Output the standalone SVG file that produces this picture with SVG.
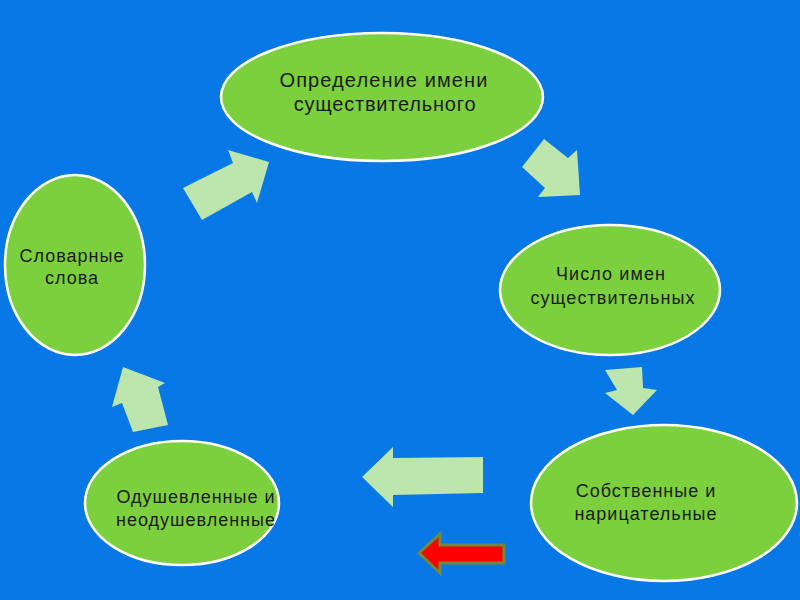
<svg xmlns="http://www.w3.org/2000/svg" width="800" height="600" viewBox="0 0 800 600">
<style>
.node ellipse{fill:#7dd03d;stroke:#ffffff;stroke-width:2.5}
.node text{font-family:"Liberation Sans",Arial,sans-serif;font-size:18px;fill:#1a1a1a;text-anchor:middle;letter-spacing:1px}
#n1 text{font-size:20px}
.arr{fill:#bde5ae}
.red{fill:#ff0000;stroke:#6e8a3c;stroke-width:3;stroke-linejoin:miter}
</style>
<rect width="800" height="600" fill="#0878e6"/>
<g id="connectors">
<polygon class="arr" points="183,188 233,163 228,150 269,162 257,203 252,192 202,220"/>
<polygon class="arr" points="544,139 568,158 577,150 580,195 538,197 545,188 522,167"/>
<polygon class="arr" points="605,370 642,367 643,388 657,390 633,415 605,393 617,390"/>
<polygon class="arr" points="362,477 393,447 393,458 483,457 483,493 393,495 393,507"/>
<polygon class="arr" points="123,367 165,383 158,387 168,425 133,432 122,403 112,407"/>
<polygon class="red" points="419,553 440,534 440,545 504,545 504,563 440,563 440,573"/>
</g>
<g id="n1" class="node">
<ellipse cx="382" cy="97" rx="161" ry="64"/>
<text x="384" y="87" style="letter-spacing:1.1px">Определение имени</text>
<text x="385" y="111" style="letter-spacing:0.8px">существительного</text>
</g>
<g id="n2" class="node">
<ellipse cx="610" cy="290" rx="110" ry="65"/>
<text x="611" y="280" style="letter-spacing:1.1px">Число имен</text>
<text x="613" y="304" style="letter-spacing:1.1px">существительных</text>
</g>
<g id="n3" class="node">
<ellipse cx="664" cy="503" rx="133" ry="78"/>
<text x="646" y="497">Собственные и</text>
<text x="646" y="520">нарицательные</text>
</g>
<g id="n4" class="node">
<ellipse cx="182" cy="503" rx="97" ry="62"/>
<text x="196" y="503">Одушевленные и</text>
<text x="196" y="526">неодушевленные</text>
</g>
<g id="n5" class="node">
<ellipse cx="75" cy="265" rx="70" ry="90"/>
<text x="72" y="262">Словарные</text>
<text x="72" y="284">слова</text>
</g>
</svg>
